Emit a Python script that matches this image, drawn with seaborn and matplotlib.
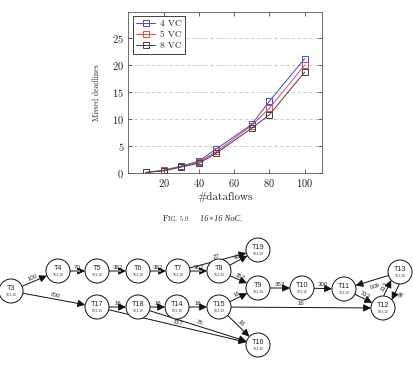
import numpy as np
import pandas as pd
import seaborn as sns
import matplotlib.pyplot as plt
from matplotlib.patches import Circle, FancyArrowPatch

# ---------------- data ----------------
dataflows = [10, 20, 30, 40, 50, 70, 80, 100]
vc4 = [0.1, 0.5, 1.3, 2.2, 4.5, 9.0, 13.3, 21.2]
vc5 = [0.1, 0.5, 1.2, 2.0, 4.0, 8.8, 12.0, 20.0]
vc8 = [0.1, 0.4, 1.1, 1.8, 3.7, 8.3, 10.8, 18.7]
series_names = ["4 VC", "5 VC", "8 VC"]
x_ticks = [20, 40, 60, 80, 100]
y_ticks = [0, 5, 10, 15, 20, 25]
x_label = "#dataflows"
y_label = "Missed deadlines"

tasks = ["T3", "T4", "T5", "T6", "T7", "T8", "T19", "T9", "T10", "T11",
         "T13", "T12", "T17", "T18", "T14", "T15", "T16"]
task_params = "10,2,10"
edge_src = ["T3", "T3", "T4", "T5", "T6", "T7", "T7", "T8", "T8", "T9", "T10",
            "T11", "T12", "T13", "T13", "T17", "T18", "T14", "T15", "T15", "T15",
            "T18", "T17"]
edge_dst = ["T4", "T17", "T5", "T6", "T7", "T8", "T19", "T19", "T9", "T10", "T11",
            "T12", "T13", "T12", "T11", "T18", "T14", "T15", "T9", "T12", "T16",
            "T16", "T16"]
edge_bw = ["100", "700", "70", "362", "362", "362", "27", "49", "357", "353", "300",
           "313", "313", "96", "600", "16", "16", "16", "16", "16", "16",
           "76", "157"]

# ---------------- layout / style ----------------
W, H = 414, 365
node_xy = {
    "T3": (11, 291), "T4": (58, 271), "T5": (97, 271), "T6": (138, 271),
    "T7": (178, 271), "T8": (219, 271), "T19": (258, 250), "T9": (258, 288),
    "T10": (302, 288), "T11": (344, 289), "T13": (400, 272), "T12": (383, 308),
    "T17": (97, 307), "T18": (138, 307), "T14": (177, 307), "T15": (219, 307),
    "T16": (258, 345),
}
R = 12.0
HEAD = 4.5
gray_edges = {("T4", "T5"), ("T5", "T6"), ("T6", "T7"), ("T7", "T8")}
paired = {("T12", "T13"), ("T13", "T12")}
colors = ["#4646e6", "#e04848", "#404040"]

sns.set_style("ticks")
plt.rcParams["font.family"] = ["cmr10", "DejaVu Serif"]
plt.rcParams["axes.formatter.use_mathtext"] = True

fig = plt.figure(figsize=(W / 100, H / 100), dpi=100)

# diagram / caption layer in pixel coordinates
dax = fig.add_axes([0, 0, 1, 1])
dax.set_xlim(0, W)
dax.set_ylim(H, 0)
dax.axis("off")

# ---------------- chart ----------------
left, right, top, bottom = 128.3, 322.3, 11.7, 173.0
ax = fig.add_axes([left / W, 1 - bottom / H, (right - left) / W, (bottom - top) / H])
df = pd.DataFrame({
    "dataflows": dataflows * 3,
    "missed": vc4 + vc5 + vc8,
    "series": [series_names[0]] * len(dataflows) + [series_names[1]] * len(dataflows)
              + [series_names[2]] * len(dataflows),
})
for name, col in zip(series_names, colors):
    sns.lineplot(data=df[df["series"] == name], x="dataflows", y="missed", ax=ax,
                 color=col, lw=0.7, marker="s", markersize=4.2,
                 markerfacecolor="none", markeredgecolor=col, markeredgewidth=0.7,
                 label=name)
ax.set_xlim(0, 110)
ax.set_ylim(0, 29.9)
ax.set_xticks(x_ticks)
ax.set_yticks(y_ticks)
ax.yaxis.grid(True, ls=(0, (4, 3)), color="#c4c4c4", lw=0.6)
ax.set_axisbelow(True)
ax.tick_params(direction="in", top=True, right=True, length=3, width=0.5,
               labelsize=7.5, pad=3, colors="#222222")
for s in ax.spines.values():
    s.set_color("#555555")
    s.set_linewidth(0.6)
ax.set_xlabel(x_label, fontsize=8, labelpad=2)
ax.set_ylabel(y_label, fontsize=5.6, labelpad=8)
leg = ax.legend(loc="upper left", fontsize=6.8, frameon=True, fancybox=False,
                edgecolor="#222222", framealpha=1, borderpad=0.35,
                labelspacing=0.25, handlelength=2.0, handletextpad=0.5,
                borderaxespad=0.5)
leg.get_frame().set_linewidth(0.6)

# ---------------- caption ----------------
dax.text(163, 221, "F", fontsize=6.2, ha="left", va="baseline", family=["cmr10"])
dax.text(168.5, 221, "IG. 5.9.", fontsize=4.9, ha="left", va="baseline", family=["cmr10"])
dax.text(200, 221, "16\u00d716 NoC.", fontsize=6.0, ha="left", va="baseline",
         family=["Liberation Serif"], style="italic")

# ---------------- task graph ----------------
sans = ["Liberation Sans", "DejaVu Sans"]
for t in tasks:
    x, y = node_xy[t]
    dax.add_patch(Circle((x, y), R, fc="white", ec="#111111", lw=0.7, zorder=3))
    dax.text(x, y - 2.2, t, fontsize=5.2, ha="center", va="center", family=sans, zorder=4)
    dax.text(x, y + 4.0, task_params, fontsize=2.3, ha="center", va="center",
             family=sans, color="#333333", zorder=4)

for s, d, bw in zip(edge_src, edge_dst, edge_bw):
    x0, y0 = node_xy[s]
    x1, y1 = node_xy[d]
    dx, dy = x1 - x0, y1 - y0
    L = np.hypot(dx, dy)
    ux, uy = dx / L, dy / L
    nx, ny = uy, -ux  # left side of travel
    off = 4.5 if (s, d) in paired else 0.0
    a = np.arcsin(min(off / R, 0.99))
    ca = np.cos(a) * R
    p0 = (x0 + ux * ca + nx * off, y0 + uy * ca + ny * off)
    p1 = (x1 - ux * ca + nx * off, y1 - uy * ca + ny * off)
    dax.add_patch(FancyArrowPatch(p0, p1,
                                  arrowstyle=f"-|>,head_length={HEAD},head_width=2.2",
                                  mutation_scale=1, lw=0.7, color="#111111",
                                  zorder=2, shrinkA=0, shrinkB=0))
    if (s, d) in gray_edges:
        dax.plot([p0[0], p1[0] - ux * HEAD], [p0[1], p1[1] - uy * HEAD],
                 color="#8a8a8a", lw=1.4, solid_capstyle="butt", zorder=2.1)
    mx, my = (p0[0] + p1[0]) / 2, (p0[1] + p1[1]) / 2
    ang = np.degrees(np.arctan2(-dy, dx))
    dax.text(mx + nx * 3.5, my + ny * 3.5, bw, fontsize=4.4, ha="center", va="center",
             rotation=ang, rotation_mode="anchor", family=sans, zorder=4)

fig.savefig("out.png", dpi=100)
